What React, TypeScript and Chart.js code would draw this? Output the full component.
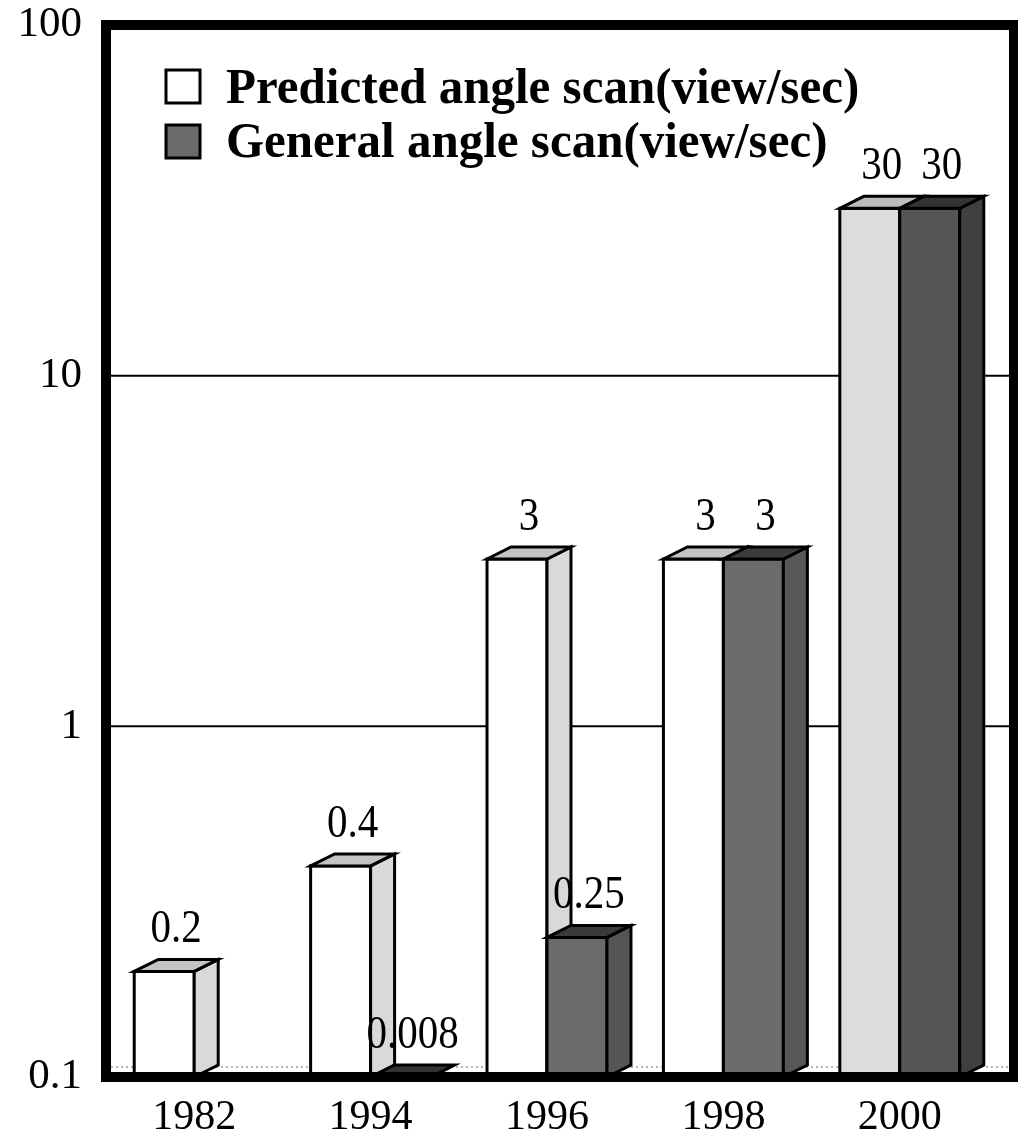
import { useEffect, useRef } from "react";
import { Chart, registerables } from "chart.js";

Chart.register(...registerables);

const years = ["1982", "1994", "1996", "1998", "2000"];
const predictedScan: (number | null)[] = [0.2, 0.4, 3, 3, 30];
const generalScan: (number | null)[] = [null, 0.008, 0.25, 3, 30];
const yTickValues = [0.1, 1, 10, 100];
const gridValues = [1, 10];
const seriesLabels = ["Predicted angle scan(view/sec)", "General angle scan(view/sec)"];

// Face shades for each box: front, side, top
const predictedFront = ["#ffffff", "#ffffff", "#ffffff", "#ffffff", "#dcdcdc"];
const predictedSide = ["#d9d9d9", "#d9d9d9", "#d9d9d9", "#d9d9d9", "#c8c8c8"];
const predictedTop = ["#c4c4c4", "#c4c4c4", "#c4c4c4", "#c4c4c4", "#bdbdbd"];
const generalFront = ["#6b6b6b", "#6b6b6b", "#6b6b6b", "#6b6b6b", "#555555"];
const generalSide = ["#555555", "#555555", "#555555", "#575757", "#404040"];
const generalTop = ["#3a3a3a", "#333333", "#3a3a3a", "#3c3c3c", "#333333"];
const legendSwatch = ["#ffffff", "#6b6b6b"];

const DEPTH_X = 24;
const DEPTH_Y = 12;
const FRAME_RIGHT = 1014;
const SERIF = '"Liberation Serif", "Times New Roman", serif';

const faces = [
  { front: predictedFront, side: predictedSide, top: predictedTop },
  { front: generalFront, side: generalSide, top: generalTop },
];

function poly(ctx: CanvasRenderingContext2D, pts: number[][], fill: string) {
  ctx.beginPath();
  ctx.moveTo(pts[0][0], pts[0][1]);
  for (let i = 1; i < pts.length; i++) ctx.lineTo(pts[i][0], pts[i][1]);
  ctx.closePath();
  ctx.fillStyle = fill;
  ctx.fill();
  ctx.stroke();
}

// text drawn slightly taller than wide, like the rest of the figure's lettering
function tallText(ctx: CanvasRenderingContext2D, text: string, x: number, y: number, stretch: number) {
  ctx.save();
  ctx.translate(x, y);
  ctx.scale(1, stretch);
  ctx.fillText(text, 0, 0);
  ctx.restore();
}

const box3d = {
  id: "box3d",
  beforeDatasetsDraw(chart: any) {
    const { ctx, chartArea: a, scales } = chart;
    const y = scales.y;
    ctx.save();
    ctx.strokeStyle = "#000";
    ctx.lineWidth = 2;
    for (const v of gridValues) {
      const py = y.getPixelForValue(v);
      ctx.beginPath();
      ctx.moveTo(a.left, py);
      ctx.lineTo(FRAME_RIGHT, py);
      ctx.stroke();
    }
    // back edge of the floor
    ctx.strokeStyle = "#9a9a9a";
    ctx.lineWidth = 1.5;
    ctx.setLineDash([2, 3]);
    ctx.beginPath();
    ctx.moveTo(a.left, a.bottom - 10);
    ctx.lineTo(FRAME_RIGHT, a.bottom - 10);
    ctx.stroke();
    ctx.restore();
  },
  afterDatasetsDraw(chart: any) {
    const { ctx, chartArea: a, scales } = chart;
    const y = scales.y;
    const labels: { text: string; x: number; y: number }[] = [];
    ctx.save();
    ctx.strokeStyle = "#000";
    ctx.lineWidth = 3;
    ctx.lineJoin = "miter";
    for (let i = 0; i < years.length; i++) {
      for (let d = 0; d < chart.data.datasets.length; d++) {
        const v = chart.data.datasets[d].data[i];
        if (v == null) continue;
        const el = chart.getDatasetMeta(d).data[i];
        const l = el.x - el.width / 2;
        const r = el.x + el.width / 2;
        const b = a.bottom;
        const t = Math.min(y.getPixelForValue(v), b);
        const f = faces[d];
        if (b > t) {
          ctx.fillStyle = f.front[i];
          ctx.fillRect(l, t, r - l, b - t);
          ctx.strokeRect(l, t, r - l, b - t);
        }
        poly(ctx, [[r, b], [r + DEPTH_X, b - DEPTH_Y], [r + DEPTH_X, t - DEPTH_Y], [r, t]], f.side[i]);
        poly(ctx, [[l, t], [l + DEPTH_X, t - DEPTH_Y], [r + DEPTH_X, t - DEPTH_Y], [r, t]], f.top[i]);
        labels.push({ text: String(v), x: el.x + DEPTH_X / 2, y: t - DEPTH_Y - 17 });
      }
    }
    ctx.fillStyle = "#000";
    ctx.font = `41px ${SERIF}`;
    ctx.textAlign = "center";
    ctx.textBaseline = "alphabetic";
    for (const lb of labels) tallText(ctx, lb.text, lb.x, lb.y, 1.12);
    ctx.restore();
  },
  afterDraw(chart: any) {
    const { ctx, chartArea: a } = chart;
    ctx.save();
    // heavy frame
    ctx.strokeStyle = "#000";
    ctx.lineWidth = 10;
    ctx.lineJoin = "miter";
    ctx.strokeRect(a.left, a.top, FRAME_RIGHT - a.left, a.bottom - a.top);
    // legend
    const boxX = 166;
    const rows = [{ top: 70, base: 103 }, { top: 125, base: 157 }];
    ctx.lineWidth = 3;
    ctx.font = `bold 49px ${SERIF}`;
    ctx.textAlign = "left";
    ctx.textBaseline = "alphabetic";
    chart.data.datasets.forEach((ds: any, k: number) => {
      const row = rows[k];
      ctx.fillStyle = legendSwatch[k];
      ctx.fillRect(boxX, row.top, 34, 33);
      ctx.strokeRect(boxX, row.top, 34, 33);
      ctx.fillStyle = "#000";
      tallText(ctx, ds.label, 226, row.base, 1.05);
    });
    ctx.restore();
  },
};

export default function App() {
  const ref = useRef<HTMLCanvasElement | null>(null);

  useEffect(() => {
    document.body.style.margin = "0";
    const canvas = ref.current;
    if (!canvas) return;
    const chart = new Chart(canvas, {
      type: "bar",
      data: {
        labels: years,
        datasets: [
          {
            label: seriesLabels[0],
            data: predictedScan,
            backgroundColor: "rgba(0,0,0,0)",
            borderWidth: 0,
          },
          {
            label: seriesLabels[1],
            data: generalScan,
            backgroundColor: "rgba(0,0,0,0)",
            borderWidth: 0,
          },
        ],
      },
      options: {
        responsive: false,
        animation: false,
        devicePixelRatio: 1,
        layout: { padding: { top: 25, right: 30, left: 0, bottom: 0 } },
        datasets: { bar: { categoryPercentage: 0.68, barPercentage: 1 } },
        plugins: { legend: { display: false }, tooltip: { enabled: false } },
        scales: {
          x: {
            grid: { display: false, drawTicks: false },
            border: { display: false },
            ticks: { color: "#000", font: { family: SERIF, size: 42 }, padding: 16 },
            afterFit: (s: any) => {
              s.height = 56;
              s.paddingLeft = 0;
              s.paddingRight = 0;
            },
          },
          y: {
            type: "logarithmic",
            min: 0.1,
            max: 100,
            grid: { display: false, drawTicks: false },
            border: { display: false },
            afterBuildTicks: (s: any) => {
              s.ticks = yTickValues.map((v) => ({ value: v }));
            },
            ticks: {
              color: "#000",
              font: { family: SERIF, size: 43 },
              padding: 24,
              callback: (v: any) => String(v),
            },
            afterFit: (s: any) => {
              s.width = 106;
              s.paddingTop = 0;
              s.paddingBottom = 0;
            },
          },
        },
      },
      plugins: [box3d],
    });
    return () => chart.destroy();
  }, []);

  return <canvas ref={ref} width={1018} height={1133} style={{ display: "block" }} />;
}
